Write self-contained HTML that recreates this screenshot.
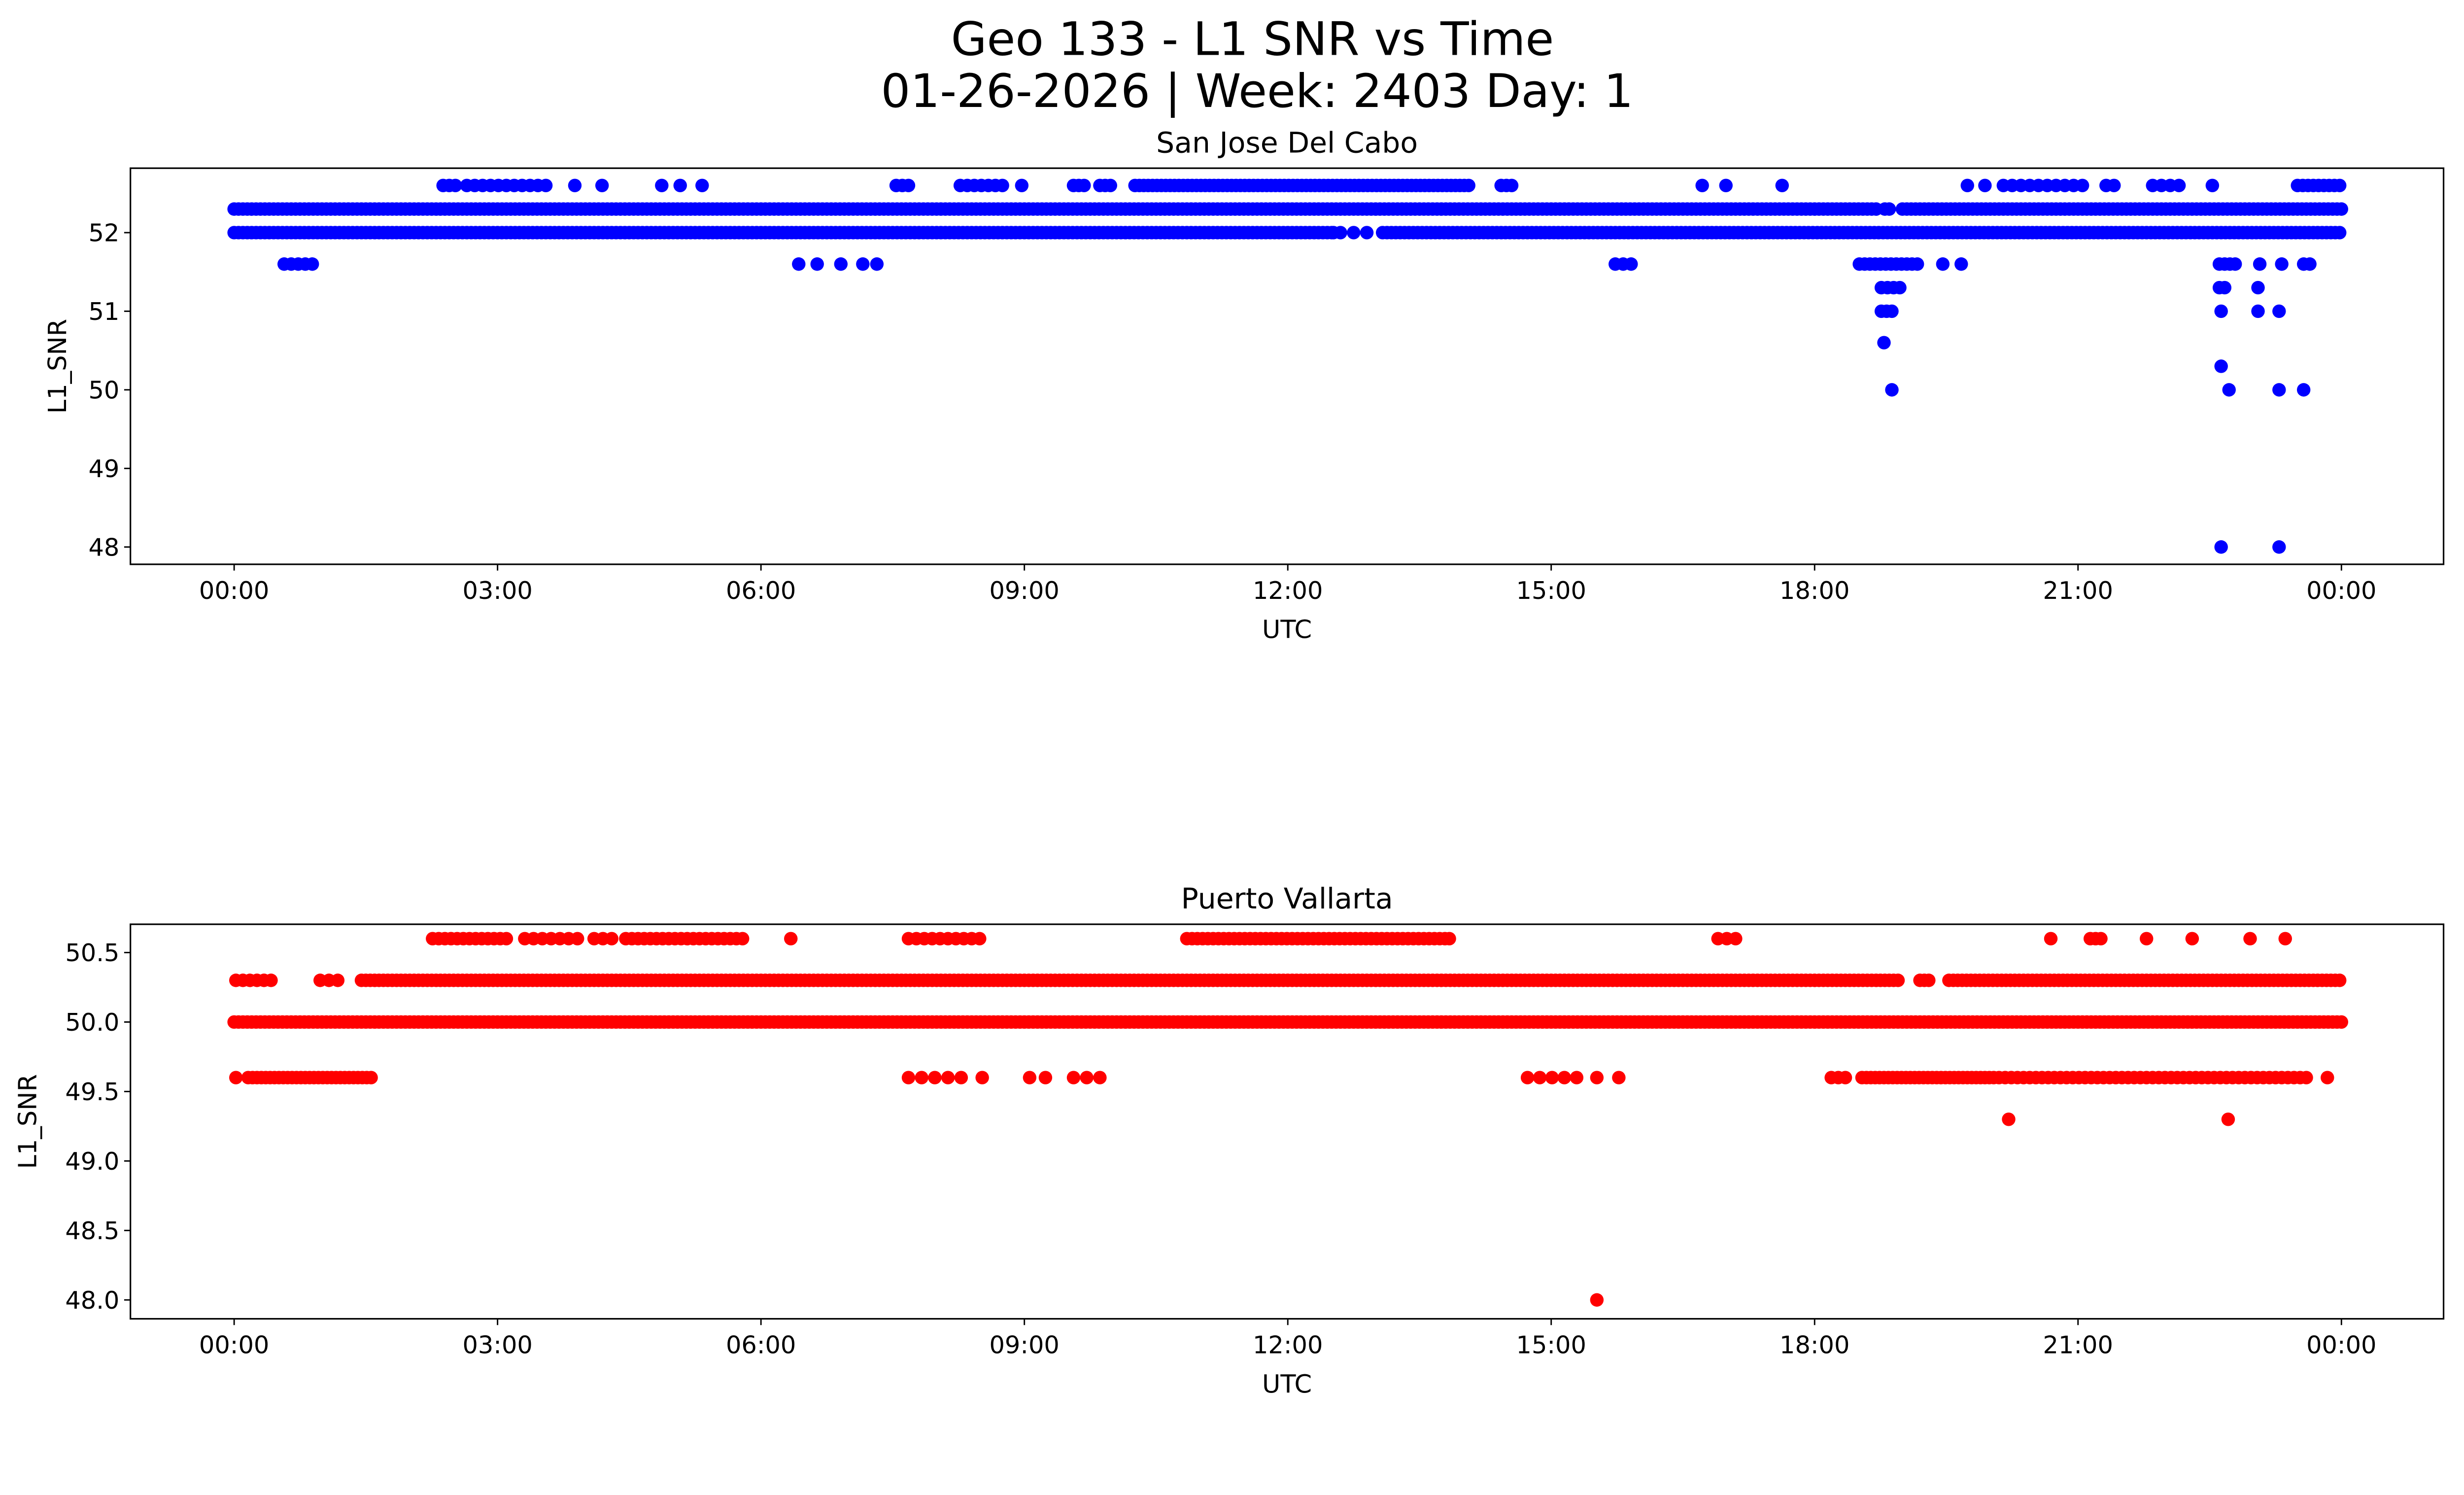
<!DOCTYPE html>
<html><head><meta charset="utf-8"><style>
html,body{margin:0;padding:0;background:#fff;overflow:hidden;}
svg{display:block;position:absolute;left:0;top:0;width:100vw;height:57.4649vw;font-family:"DejaVu Sans","Liberation Sans",sans-serif;}
</style></head><body>
<svg id="chart" viewBox="0 0 1568 901" preserveAspectRatio="none" xmlns="http://www.w3.org/2000/svg">
<text x="797" y="35" font-size="29.5" text-anchor="middle">Geo 133 - L1 SNR vs Time</text>
<text x="800" y="68" font-size="29.5" text-anchor="middle">01-26-2026 | Week: 2403 Day: 1</text>
<g id="top"></g>
<g id="bot"></g>
</svg>
<script>
// Time in hours, segments: [level, startHour, endHour, stepHour]
const blueSegments = [
[52.3,0,18.7,0.05],[52.3,18.8,18.85,0.05],[52.3,19.0,24,0.05],
[52.0,0,12.5,0.05],[52.0,12.52,12.6,0.08],[52.0,12.75,12.9,0.15],[52.0,13.08,24,0.05],
[52.6,2.38,2.52,0.07],[52.6,2.65,3.63,0.09],[52.6,7.54,7.68,0.07],[52.6,8.27,8.79,0.08],
[52.6,9.56,9.68,0.06],[52.6,9.86,9.99,0.06],[52.6,10.26,14.07,0.05],[52.6,14.43,14.6,0.06],
[52.6,20.15,21.14,0.1],[52.6,21.32,21.41,0.09],[52.6,21.85,22.18,0.1],[52.6,23.5,24,0.06],
[51.6,0.57,0.93,0.08],[51.6,7.16,7.32,0.16],[51.6,15.73,15.91,0.09],[51.6,18.51,19.21,0.06],
[51.6,22.61,22.79,0.06],[51.6,23.57,23.64,0.07],
[51.3,18.76,19.03,0.07],[51.3,22.61,22.72,0.06],[51.0,18.76,18.9,0.06]
];
const bluePointsT = [3.88,4.19,4.87,5.08,5.33,8.97,16.72,16.99,17.63,19.74,19.94,22.53,6.43,6.64,6.91,19.46,19.67,23.07,23.32,23.05,22.63,23.05,23.29,18.79,18.88,22.72,23.29,23.57,22.63,22.63,23.29];
const bluePointsV = [52.6,52.6,52.6,52.6,52.6,52.6,52.6,52.6,52.6,52.6,52.6,52.6,51.6,51.6,51.6,51.6,51.6,51.6,51.6,51.3,51.0,51.0,51.0,50.6,50.0,50.0,50.0,50.0,50.3,48.0,48.0];
const blueTicks = [48,49,50,51,52];

const redSegments = [
[50.0,0,24,0.05],
[50.3,0.02,0.48,0.08],[50.3,0.98,1.23,0.1],[50.3,1.45,18.99,0.05],[50.3,19.2,19.3,0.05],[50.3,19.53,24,0.05],
[50.6,2.26,3.15,0.07],[50.6,3.31,3.92,0.1],[50.6,4.1,4.31,0.1],[50.6,4.46,5.85,0.07],
[50.6,7.68,8.52,0.09],[50.6,10.85,13.84,0.06],[50.6,16.9,17.11,0.1],[50.6,21.14,21.26,0.06],
[49.6,0.16,1.56,0.05],[49.6,7.68,8.3,0.15],[49.6,9.06,9.24,0.18],[49.6,9.56,9.97,0.15],
[49.6,14.73,15.3,0.14],[49.6,18.19,18.36,0.08],[49.6,18.54,20.06,0.05],[49.6,20.1,23.6,0.07]
];
const redPointsT = [0.02,6.34,8.52,13.84,20.69,21.78,22.3,22.96,23.36,15.52,15.77,23.84,20.21,22.71,15.52];
const redPointsV = [49.6,50.6,49.6,50.6,50.6,50.6,50.6,50.6,50.6,49.6,49.6,49.6,49.3,49.3,48.0];
const redTicks = [48.0,48.5,49.0,49.5,50.0,50.5];
const timeTicks = ["00:00","03:00","06:00","09:00","12:00","15:00","18:00","21:00","00:00"];

const NS="http://www.w3.org/2000/svg";
function mk(tag,attrs,parent){const e=document.createElementNS(NS,tag);for(const k in attrs)e.setAttribute(k,attrs[k]);parent.appendChild(e);return e;}
const xScale = h => 149 + h*(1490-149)/24;

function panel(g, title, top, bottom, yAt, ticks, fmt, segs, pT, pV, color){
  const L=83,R=1555;
  const f=(v)=>v.toFixed(fmt);
  ticks.forEach(v=>{
    const y=yAt(v);
    const t=mk('line',{x1:L-4,x2:L,y1:y,y2:y,stroke:'#000','stroke-width':0.9},g);
    
    
    const tx=mk('text',{x:L-7,y:y+5.5,'font-size':15.5,'text-anchor':'end'},g);
    tx.textContent=f(v);
    
    
  });
  timeTicks.forEach((s,i)=>{
    const x=xScale(i*3);
    const t=mk('line',{x1:x,x2:x,y1:bottom,y2:bottom+4,stroke:'#000','stroke-width':0.9},g);
    
    
    const tx=mk('text',{x:x,y:bottom+22,'font-size':15.5,'text-anchor':'middle'},g);
    tx.textContent=s;
    
    
  });
  const dots=mk('g',{fill:color},g);
  
  
  segs.forEach(s=>{
    for(let h=s[1];h<=s[2]+1e-9;h+=s[3]){
      const c=mk('circle',{cx:xScale(h),cy:yAt(s[0]),r:4.3},dots);
      
      
    }
  });
  pT.forEach((h,i)=>{
    const c=mk('circle',{cx:xScale(h),cy:yAt(pV[i]),r:4.3},dots);
    
    
  });
  const fr=mk('rect',{x:L,y:top,width:R-L,height:bottom-top,fill:'none',stroke:'#000','stroke-width':1},g);
  
  
  const tt=mk('text',{x:(L+R)/2,y:top-10,'font-size':18.3,'text-anchor':'middle'},g);
  tt.textContent=title;
  
  
  const xl=mk('text',{x:(L+R)/2,y:bottom+47,'font-size':16,'text-anchor':'middle'},g);
  xl.textContent='UTC';
  
  
  const yx = fmt?23:42;
  const yl=mk('text',{x:yx,y:(top+bottom)/2,'font-size':16,'text-anchor':'middle',transform:`rotate(-90 ${yx} ${(top+bottom)/2})`},g);
  yl.textContent='L1_SNR';
  
  
}
panel(document.getElementById('top'),'San Jose Del Cabo',107,359,v=>148+(52-v)*50,blueTicks,0,blueSegments,bluePointsT,bluePointsV,'#0000ff');
panel(document.getElementById('bot'),'Puerto Vallarta',588,839,v=>827-(v-48)*88.4,redTicks,1,redSegments,redPointsT,redPointsV,'#ff0000');
</script>
</body></html>
